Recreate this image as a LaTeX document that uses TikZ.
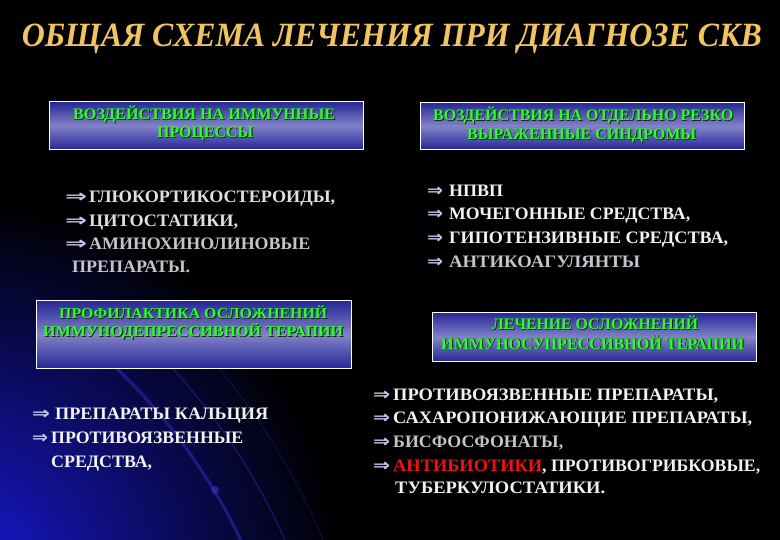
\documentclass[tikz,border=0pt]{standalone}
\usepackage{fontspec}
\setmainfont{Liberation Serif}
\newfontfamily\symf{DejaVu Sans}
\usepackage{graphicx}
\definecolor{gold}{RGB}{240,196,96}
\definecolor{boxgreen}{RGB}{40,255,40}
\definecolor{shadowc}{RGB}{10,40,10}
\definecolor{boxtop}{RGB}{38,38,150}
\definecolor{boxmid}{RGB}{130,130,200}
\definecolor{txtw}{RGB}{242,242,242}
\definecolor{txtg}{RGB}{196,196,204}
\definecolor{arr}{RGB}{200,200,240}
\definecolor{redt}{RGB}{235,20,20}
\definecolor{glow}{RGB}{25,25,215}
\definecolor{arcc}{RGB}{60,60,230}
\newcommand\fitw[2]{\resizebox{#1pt}{\height}{#2}}
\newcommand\gsh[1]{\makebox[0pt][l]{\hspace{1pt}\raisebox{-1pt}{\color{shadowc}#1}}{\color{boxgreen}#1}}
% arrow width, gap to text, text width, text
\newcommand\itm[4]{\makebox[#2pt][l]{\color{arr}\resizebox{#1pt}{\height}{\symf\bfseries ⇒}}\fitw{#3}{#4}}
\tikzset{
  panel/.style={draw=white, line width=1.2pt, top color=boxtop, bottom color=boxtop, middle color=boxmid, inner sep=0pt, anchor=north west},
  hdr/.style={anchor=base west, inner sep=0pt, font=\fontsize{16}{16}\selectfont\bfseries},
  lst/.style={anchor=base west, inner sep=0pt, font=\fontsize{17.5}{17.5}\selectfont\bfseries, text=txtw},
}
\begin{document}
\begin{tikzpicture}[x=1pt,y=-1pt]
\useasboundingbox (0,0) rectangle (780,540);
\fill[black] (0,0) rectangle (780,540);
\begin{scope}
\clip (0,0) rectangle (780,540);
\shade[inner color=glow, outer color=black] (-40,580) circle (380);
\end{scope}
\begin{scope}
\clip (0,320) rectangle (780,540);
\draw[arcc, line width=3pt, opacity=0.4] (-300,800) circle (600);
\draw[arcc, line width=1.5pt, opacity=0.3] (-300,800) circle (640);
\draw[arcc, line width=1.2pt, opacity=0.2] (-300,800) circle (675);
\fill[arcc, opacity=0.5] (215,490) circle (4);
\end{scope}

\node[anchor=base, inner sep=0pt] (title) at (392,47) {\fitw{740}{\fontsize{34}{34}\selectfont\bfseries\itshape\color{gold}ОБЩАЯ СХЕМА ЛЕЧЕНИЯ ПРИ ДИАГНОЗЕ СКВ}};

\node[panel, minimum width=314pt, minimum height=48pt] (b1) at (49,101) {};
\node[panel, minimum width=324pt, minimum height=47pt] (b2) at (420,102) {};
\node[panel, minimum width=315pt, minimum height=68pt] (b3) at (36,300) {};
\node[panel, minimum width=324pt, minimum height=49pt] (b4) at (432,312) {};

\node[hdr] (b1a) at (73,120) {\fitw{262}{\gsh{ВОЗДЕЙСТВИЯ НА ИММУННЫЕ}}};
\node[hdr] (b1b) at (157,138) {\fitw{96}{\gsh{ПРОЦЕССЫ}}};
\node[hdr] (b2a) at (433,121) {\fitw{300}{\gsh{ВОЗДЕЙСТВИЯ НА ОТДЕЛЬНО РЕЗКО}}};
\node[hdr] (b2b) at (467,140) {\fitw{229}{\gsh{ВЫРАЖЕННЫЕ СИНДРОМЫ}}};
\node[hdr, font=\fontsize{15}{15}\selectfont\bfseries] (b3a) at (59,319) {\fitw{268}{\gsh{ПРОФИЛАКТИКА ОСЛОЖНЕНИЙ}}};
\node[hdr, font=\fontsize{15}{15}\selectfont\bfseries] (b3b) at (43,337) {\fitw{300}{\gsh{ИММУНОДЕПРЕССИВНОЙ ТЕРАПИИ}}};
\node[hdr] (b4a) at (492,330) {\fitw{206}{\gsh{ЛЕЧЕНИЕ ОСЛОЖНЕНИЙ}}};
\node[hdr] (b4b) at (441,349) {\fitw{303}{\gsh{ИММУНОСУПРЕССИВНОЙ ТЕРАПИИ}}};

% left list 1
\node[lst, text=txtw!92!black] (l1a) at (65,203) {\itm{22}{24}{246}{ГЛЮКОРТИКОСТЕРОИДЫ,}};
\node[lst, text=txtw!92!black] (l1b) at (65,227) {\itm{22}{24}{149}{ЦИТОСТАТИКИ,}};
\node[lst, text=txtg] (l1c) at (65,250) {\itm{22}{24}{221}{АМИНОХИНОЛИНОВЫЕ}};
\node[lst, text=txtg] (l1d) at (72,273) {\fitw{118}{ПРЕПАРАТЫ.}};

% right list 1
\node[lst] (r1a) at (427,197) {\itm{16}{22}{54}{НПВП}};
\node[lst] (r1b) at (427,220) {\itm{16}{22}{241}{МОЧЕГОННЫЕ СРЕДСТВА,}};
\node[lst] (r1c) at (427,244) {\itm{16}{22}{279}{ГИПОТЕНЗИВНЫЕ СРЕДСТВА,}};
\node[lst, text=txtg] (r1d) at (427,268) {\itm{16}{22}{191}{АНТИКОАГУЛЯНТЫ}};

% left list 2
\node[lst] (l2a) at (32,419) {\itm{18}{23}{213}{ПРЕПАРАТЫ КАЛЬЦИЯ}};
\node[lst] (l2b) at (32,443) {\makebox[19pt][l]{\color{arr}\resizebox{16pt}{\height}{\symf ⇒}}\fitw{192}{ПРОТИВОЯЗВЕННЫЕ}};
\node[lst] (l2c) at (51,467) {\fitw{101}{СРЕДСТВА,}};

% right list 2
\node[lst] (r2a) at (373,400) {\itm{17}{20}{325}{ПРОТИВОЯЗВЕННЫЕ ПРЕПАРАТЫ,}};
\node[lst] (r2b) at (373,423) {\itm{17}{20}{359}{САХАРОПОНИЖАЮЩИЕ ПРЕПАРАТЫ,}};
\node[lst, text=txtg] (r2c) at (373,447) {\itm{17}{20}{170}{БИСФОСФОНАТЫ,}};
\node[lst] (r2d) at (373,471) {\itm{17}{20}{149}{\color{redt}АНТИБИОТИКИ}\fitw{218}{, ПРОТИВОГРИБКОВЫЕ,}};
\node[lst] (r2e) at (395,493) {\fitw{210}{ТУБЕРКУЛОСТАТИКИ.}};
\end{tikzpicture}
\end{document}
